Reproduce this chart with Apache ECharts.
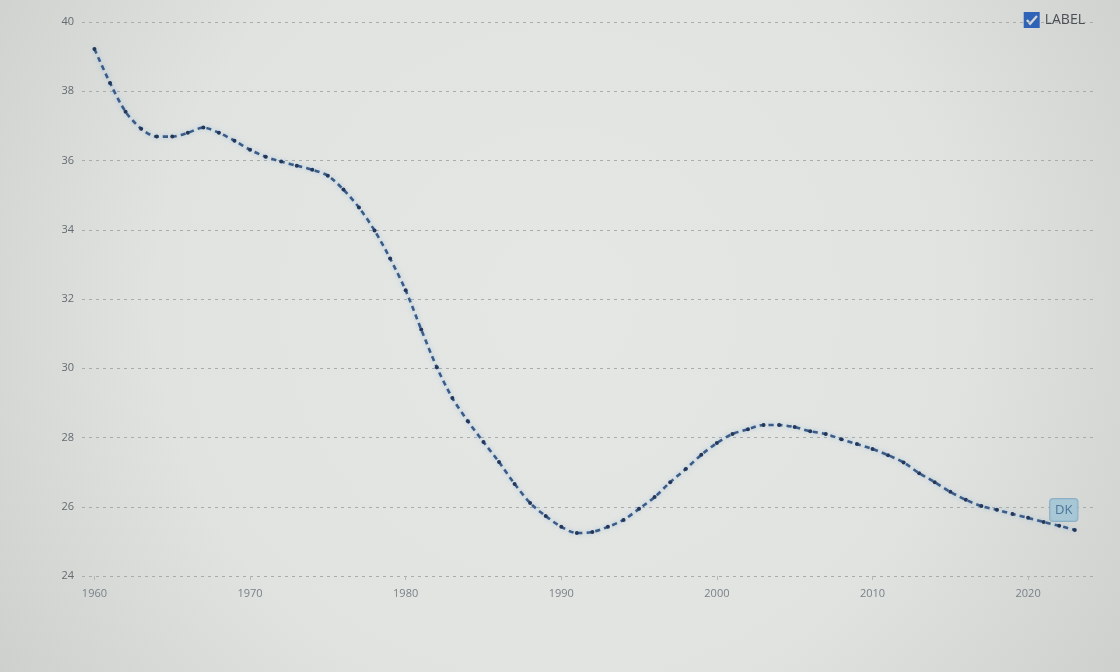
<!DOCTYPE html>
<html>
<head>
<meta charset="utf-8">
<script src="https://cdn.jsdelivr.net/npm/echarts@6/dist/echarts.min.js"></script>
<style>html,body{margin:0;padding:0;}#chart{width:1120px;height:672px;}</style>
</head>
<body>
<div id="chart"></div>
<script>
const years = [1960,1961,1962,1963,1964,1965,1966,1967,1968,1969,1970,1971,1972,1973,1974,1975,1976,1977,1978,1979,1980,1981,1982,1983,1984,1985,1986,1987,1988,1989,1990,1991,1992,1993,1994,1995,1996,1997,1998,1999,2000,2001,2002,2003,2004,2005,2006,2007,2008,2009,2010,2011,2012,2013,2014,2015,2016,2017,2018,2019,2020,2021,2022,2023];
const values = [39.22,38.24,37.41,36.92,36.69,36.69,36.80,36.95,36.80,36.57,36.31,36.11,35.97,35.85,35.73,35.56,35.16,34.64,33.98,33.17,32.25,31.12,30.03,29.14,28.47,27.87,27.29,26.66,26.11,25.73,25.42,25.24,25.27,25.42,25.62,25.94,26.28,26.71,27.09,27.50,27.84,28.10,28.24,28.36,28.36,28.30,28.18,28.10,27.95,27.81,27.67,27.49,27.28,26.97,26.71,26.43,26.20,26.02,25.91,25.79,25.68,25.56,25.45,25.33];
const xTicks = [1960,1970,1980,1990,2000,2010,2020];
const seriesName = 'LABEL';
const endLabel = 'DK';

const chart = echarts.init(document.getElementById('chart'));
const data = years.map((y, i) => {
  const item = { value: [y, values[i]] };
  if (i === years.length - 1) {
    item.label = {
      show: true, position: 'top', distance: 7, offset: [-11, 0],
      formatter: endLabel, color: '#4d7698', fontSize: 13,
      fontFamily: 'Open Sans, sans-serif',
      backgroundColor: 'rgba(160,196,214,0.85)', borderColor: '#8fb0c4', borderWidth: 1,
      borderRadius: 3, padding: [5, 5, 4, 5]
    };
  }
  return item;
});
const checkIcon = 'path://M0,0 L10,0 L10,10 L0,10 Z M1.5,5.5 L4,8.5 L8.8,3 L7.8,2 L4,6.3 L2.5,4.5 Z';
chart.setOption({
  backgroundColor: {
    type: 'radial', x: 0.5, y: 0.45, r: 1.0,
    colorStops: [{ offset: 0, color: '#e5e7e4' }, { offset: 0.6, color: '#e0e3e0' }, { offset: 1, color: '#cdd0cd' }]
  },
  animation: false,
  legend: {
    right: 30, top: 7, itemWidth: 16, itemHeight: 16, itemGap: 6,
    icon: checkIcon,
    data: [{ name: seriesName, itemStyle: { color: '#2f63b8' } }],
    textStyle: { color: '#4a4f55', fontSize: 14, fontFamily: 'Open Sans, sans-serif' }
  },
  grid: { left: 82, right: 25, top: 22, bottom: 96 },
  xAxis: {
    type: 'value', min: 1959.2, max: 2024.3,
    axisLine: { show: false },
    axisTick: { show: true, length: 4, lineStyle: { color: '#b5b8b8' }, customValues: xTicks },
    axisLabel: { color: '#7a8088', fontSize: 11, margin: 12, fontFamily: 'Open Sans, sans-serif', customValues: xTicks, formatter: v => String(v) },
    splitLine: { show: false }
  },
  yAxis: {
    type: 'value', min: 24, max: 40, interval: 2,
    axisLine: { show: false }, axisTick: { show: false },
    axisLabel: { color: '#666b72', fontSize: 11, margin: 8, fontFamily: 'Open Sans, sans-serif' },
    splitLine: { show: true, lineStyle: { color: '#a9acab', type: [3, 4], width: 1 } }
  },
  series: [{
    name: seriesName, type: 'line', data: data, smooth: 0.3,
    symbol: 'circle', symbolSize: 4, showSymbol: true,
    itemStyle: { color: '#24375a' },
    lineStyle: {
      color: '#3a5c88', width: 2.6, type: [5, 4],
      shadowColor: 'rgba(120,170,225,0.6)', shadowBlur: 4
    },
    z: 3
  }]
});
</script>
</body>
</html>
